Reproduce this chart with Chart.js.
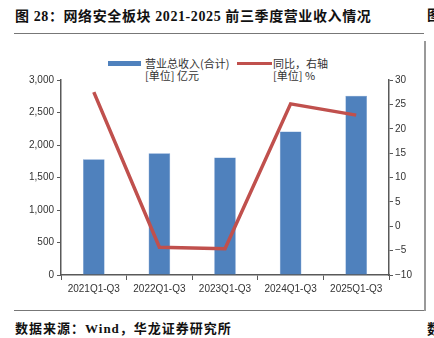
<!DOCTYPE html>
<html>
<head>
<meta charset="utf-8">
<script src="https://cdn.jsdelivr.net/npm/chart.js@4.4.0/dist/chart.umd.min.js"></script>
<style>
  html, body { margin: 0; padding: 0; background: #fff; }
  body { width: 434px; height: 338px; position: relative; overflow: hidden; }
  .title { position: absolute; left: 15px; top: 5px; font: bold 14px "Liberation Serif", "Noto Sans CJK SC"; letter-spacing: 0.6px; color: #111; white-space: nowrap; }
  .hline { position: absolute; left: 14px; width: 410px; height: 1px; background: #777; }
  .vline { position: absolute; left: 424px; top: 41px; width: 1.5px; height: 270px; background: #999; }
  .edge { position: absolute; left: 427px; font: bold 14px "Noto Sans CJK SC"; color: #111; }
  .foot { position: absolute; left: 15px; top: 318px; font: bold 13px "Liberation Serif", "Noto Sans CJK SC"; letter-spacing: 1px; color: #111; white-space: nowrap; }
  .lg { position: absolute; font: 11px "Noto Sans CJK SC"; color: #333; line-height: 12px; white-space: nowrap; }
  canvas { position: absolute; left: 0; top: 0; }
</style>
</head>
<body>
<div class="title">图 28：网络安全板块 2021-2025 前三季度营业收入情况</div>
<div class="edge" style="top:4px">图</div>
<div class="hline" style="top:33px"></div>
<div class="vline"></div>
<div class="hline" style="top:310px"></div>
<div class="foot">数据来源：Wind，华龙证券研究所</div>
<div class="edge" style="top:318px">数</div>

<div style="position:absolute;left:108px;top:61px;width:33px;height:5px;background:#4F81BD"></div>
<div class="lg" style="left:145px;top:57px">营业总收入(合计)<br>[单位] 亿元</div>
<div style="position:absolute;left:237px;top:62px;width:35px;height:3px;background:#C0504D"></div>
<div class="lg" style="left:273px;top:57px">同比，右轴<br>[单位] %</div>

<canvas id="myChart" width="434" height="338"></canvas>
<script>
const categories = ["2021Q1-Q3", "2022Q1-Q3", "2023Q1-Q3", "2024Q1-Q3", "2025Q1-Q3"];
const revenue = [1781, 1874, 1808, 2209, 2758];   // 营业总收入，亿元
const yoy = [27.5, -4.3, -4.6, 25.1, 22.8];        // 同比，%
const leftTicks = [0, 500, 1000, 1500, 2000, 2500, 3000];
const rightTicks = [-10, -5, 0, 5, 10, 15, 20, 25, 30];

const axisColor = "#595959";
const tickFont = { family: "Liberation Sans", size: 10 };

const ctx = document.getElementById("myChart").getContext("2d");
new Chart(ctx, {
  type: "bar",
  data: {
    labels: categories,
    datasets: [
      {
        type: "line",
        label: "同比，右轴",
        data: yoy,
        yAxisID: "y1",
        borderColor: "#C0504D",
        borderWidth: 3.5,
        pointRadius: 0,
        tension: 0,
        order: 0
      },
      {
        label: "营业总收入(合计)",
        data: revenue,
        yAxisID: "y",
        backgroundColor: "#4F81BD",
        borderColor: "#6E97CF",
        borderWidth: 0.5,
        categoryPercentage: 1,
        barPercentage: 0.33,
        order: 1
      }
    ]
  },
  options: {
    responsive: false,
    animation: false,
    layout: { padding: { top: 80, left: 0, right: 0, bottom: 0 } },
    plugins: { legend: { display: false }, tooltip: { enabled: false } },
    scales: {
      x: {
        offset: true,
        grid: { offset: true, drawOnChartArea: false, drawTicks: true, tickLength: 5, color: axisColor },
        border: { color: axisColor, width: 1.5 },
        ticks: { color: "#333", font: tickFont, padding: 3, maxRotation: 0 },
        afterFit: s => { s.height = 63; }
      },
      y: {
        position: "left",
        min: 0, max: 3000,
        afterBuildTicks: s => { s.ticks = leftTicks.map(v => ({ value: v })); },
        grid: { drawOnChartArea: false, tickLength: 4, color: axisColor },
        border: { color: axisColor, width: 1.5 },
        ticks: {
          color: "#333", font: tickFont, padding: 3,
          callback: v => v.toLocaleString("en-US")
        },
        afterFit: s => { s.width = 61; }
      },
      y1: {
        position: "right",
        min: -10, max: 30,
        afterBuildTicks: s => { s.ticks = rightTicks.map(v => ({ value: v })); },
        grid: { drawOnChartArea: false, tickLength: 4, color: axisColor },
        border: { color: axisColor, width: 1.5 },
        ticks: {
          color: "#333", font: tickFont, padding: 2,
          callback: v => (v < 0 ? "\u2212" + Math.abs(v) : String(v))
        },
        afterFit: s => { s.width = 45; }
      }
    }
  }
});
</script>
</body>
</html>
